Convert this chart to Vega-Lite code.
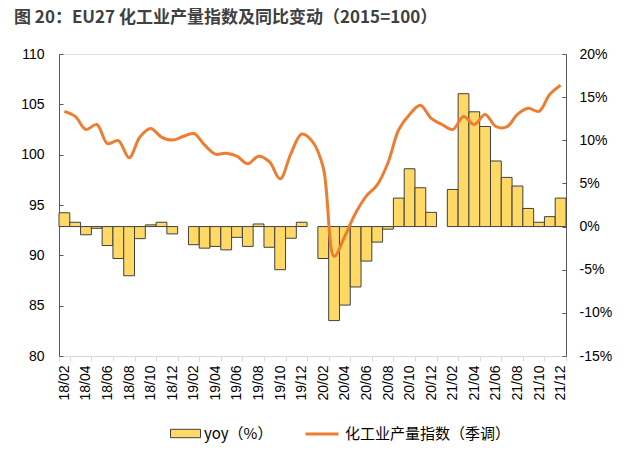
{
  "$schema": "https://vega.github.io/schema/vega-lite/v6.json",
  "width": 507,
  "height": 302,
  "autosize": {"type": "none"},
  "padding": {"left": 59, "top": 54, "right": 75, "bottom": 98},
  "background": "white",
  "title": {
    "text": "图 20：EU27 化工业产量指数及同比变动（2015=100）",
    "font": "Noto Sans CJK SC",
    "fontSize": 17,
    "fontWeight": "bold",
    "color": "#404040",
    "anchor": "start",
    "frame": "group",
    "dx": -45,
    "offset": 20
  },
  "data": {
    "values": [
      {"m": "18/02", "yoy": 1.6, "idx": 104.3},
      {"m": "18/03", "yoy": 0.5, "idx": 103.8},
      {"m": "18/04", "yoy": -0.95, "idx": 102.5},
      {"m": "18/05", "yoy": -0.2, "idx": 103.0},
      {"m": "18/06", "yoy": -2.2, "idx": 101.1},
      {"m": "18/07", "yoy": -3.7, "idx": 101.4},
      {"m": "18/08", "yoy": -5.7, "idx": 99.7},
      {"m": "18/09", "yoy": -1.4, "idx": 101.75},
      {"m": "18/10", "yoy": 0.2, "idx": 102.6},
      {"m": "18/11", "yoy": 0.5, "idx": 101.75},
      {"m": "18/12", "yoy": -0.85, "idx": 101.45},
      {"m": "19/01", "yoy": null, "idx": 101.8},
      {"m": "19/02", "yoy": -2.1, "idx": 102.1},
      {"m": "19/03", "yoy": -2.5, "idx": 100.95},
      {"m": "19/04", "yoy": -2.3, "idx": 100.05},
      {"m": "19/05", "yoy": -2.7, "idx": 100.15},
      {"m": "19/06", "yoy": -1.25, "idx": 99.85},
      {"m": "19/07", "yoy": -2.3, "idx": 99.1},
      {"m": "19/08", "yoy": 0.3, "idx": 99.85},
      {"m": "19/09", "yoy": -2.4, "idx": 99.3},
      {"m": "19/10", "yoy": -5.0, "idx": 97.6},
      {"m": "19/11", "yoy": -1.35, "idx": 100.1},
      {"m": "19/12", "yoy": 0.5, "idx": 102.05},
      {"m": "20/01", "yoy": null, "idx": 101.3},
      {"m": "20/02", "yoy": -3.7, "idx": 98.7},
      {"m": "20/03", "yoy": -10.9, "idx": 89.9},
      {"m": "20/04", "yoy": -9.1, "idx": 91.9},
      {"m": "20/05", "yoy": -7.0, "idx": 94.2},
      {"m": "20/06", "yoy": -4.0, "idx": 95.9},
      {"m": "20/07", "yoy": -1.8, "idx": 97.0},
      {"m": "20/08", "yoy": -0.3, "idx": 99.2},
      {"m": "20/09", "yoy": 3.3, "idx": 102.5},
      {"m": "20/10", "yoy": 6.7, "idx": 104.0},
      {"m": "20/11", "yoy": 4.5, "idx": 104.9},
      {"m": "20/12", "yoy": 1.65, "idx": 103.6},
      {"m": "21/01", "yoy": null, "idx": 103.0},
      {"m": "21/02", "yoy": 4.3, "idx": 102.5},
      {"m": "21/03", "yoy": 15.4, "idx": 103.8},
      {"m": "21/04", "yoy": 13.3, "idx": 103.0},
      {"m": "21/05", "yoy": 11.6, "idx": 104.0},
      {"m": "21/06", "yoy": 7.6, "idx": 102.8},
      {"m": "21/07", "yoy": 5.7, "idx": 102.75},
      {"m": "21/08", "yoy": 4.7, "idx": 104.0},
      {"m": "21/09", "yoy": 2.1, "idx": 104.6},
      {"m": "21/10", "yoy": 0.5, "idx": 104.3},
      {"m": "21/11", "yoy": 1.15, "idx": 106.0},
      {"m": "21/12", "yoy": 3.3, "idx": 106.9}
    ]
  },
  "encoding": {
    "x": {
      "field": "m",
      "type": "ordinal",
      "scale": {"paddingInner": 0, "paddingOuter": 0},
      "axis": {
        "title": null,
        "values": ["18/02","18/04","18/06","18/08","18/10","18/12","19/02","19/04","19/06","19/08","19/10","19/12","20/02","20/04","20/06","20/08","20/10","20/12","21/02","21/04","21/06","21/08","21/10","21/12"],
        "labelAngle": -90,
        "tickBand": "extent",
        "domainColor": "#D9D9D9",
        "tickColor": "#D9D9D9",
        "tickSize": 5,
        "labelFont": "Liberation Sans",
        "labelFontSize": 14,
        "labelColor": "#000000",
        "labelPadding": 4,
        "grid": false
      }
    }
  },
  "layer": [
    {
      "mark": {"type": "bar", "stroke": "#404040", "strokeWidth": 1},
      "encoding": {
        "y": {
          "field": "yoy",
          "type": "quantitative",
          "scale": {"domain": [-15, 20], "nice": false},
          "axis": {
            "orient": "right",
            "title": null,
            "values": [-15, -10, -5, 0, 5, 10, 15, 20],
            "labelExpr": "datum.value + '%'",
            "grid": false,
            "domainColor": "#595959",
            "tickColor": "#595959",
            "tickSize": -4,
            "labelPadding": 17,
            "labelFont": "Liberation Sans",
            "labelFontSize": 14,
            "labelColor": "#000000"
          }
        },
        "fill": {
          "datum": "yoy（%）",
          "type": "nominal",
          "scale": {"range": ["#FFD966"]},
          "legend": {
            "orient": "none",
            "legendX": 111,
            "legendY": 364,
            "title": null,
            "symbolType": "M-1,-0.28H1V0.28H-1Z",
            "symbolSize": 900,
            "symbolStrokeColor": "#404040",
            "symbolStrokeWidth": 1,
            "labelFont": "Noto Sans CJK SC",
            "labelFontSize": 15,
            "labelColor": "#000000",
            "labelOffset": 3,
            "labelLimit": 0
          }
        }
      }
    },
    {
      "mark": {"type": "line", "interpolate": "catmull-rom", "strokeWidth": 3},
      "encoding": {
        "y": {
          "field": "idx",
          "type": "quantitative",
          "scale": {"domain": [80, 110], "nice": false, "zero": false},
          "axis": {
            "orient": "left",
            "title": null,
            "values": [80, 85, 90, 95, 100, 105, 110],
            "grid": false,
            "domainColor": "#595959",
            "tickColor": "#595959",
            "tickSize": -4,
            "labelPadding": 19,
            "labelFont": "Liberation Sans",
            "labelFontSize": 14,
            "labelColor": "#000000"
          }
        },
        "stroke": {
          "datum": "化工业产量指数（季调）",
          "type": "nominal",
          "scale": {"range": ["#ED7D31"]},
          "legend": {
            "orient": "none",
            "legendX": 245,
            "legendY": 362,
            "title": null,
            "symbolType": "stroke",
            "symbolSize": 1089,
            "symbolStrokeWidth": 3,
            "labelFont": "Noto Sans CJK SC",
            "labelFontSize": 15,
            "labelColor": "#000000",
            "labelOffset": 5,
            "labelLimit": 0
          }
        }
      }
    }
  ],
  "resolve": {"scale": {"y": "independent"}}
}
